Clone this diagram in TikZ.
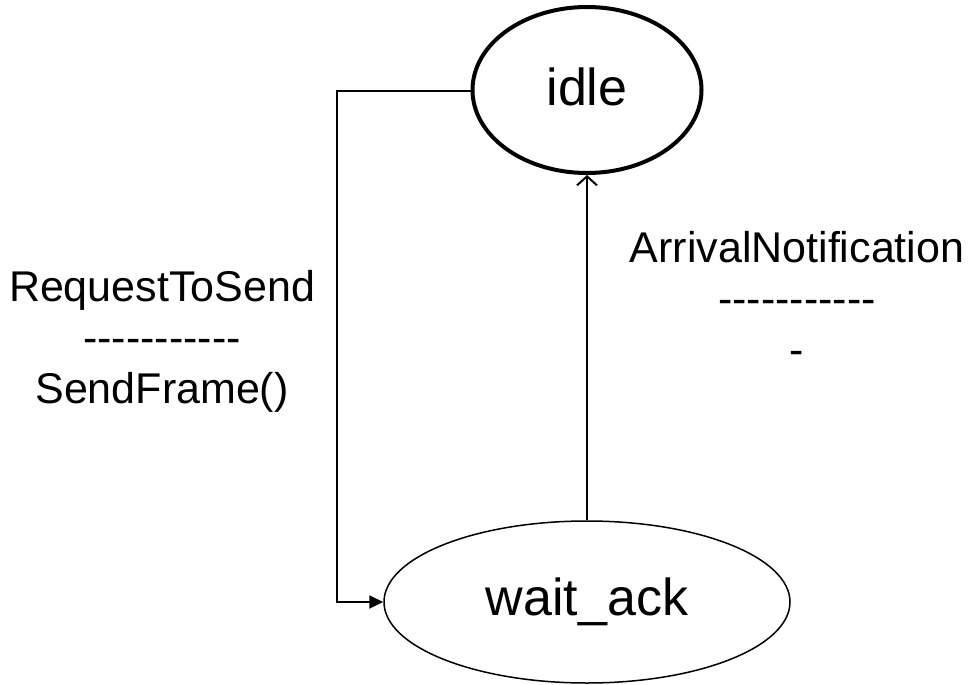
\documentclass[tikz,border=0pt]{standalone}
\usepackage{fontspec}
\setmainfont{Liberation Sans}[Ligatures=TeXOff]
\usetikzlibrary{shapes.geometric,arrows.meta}
\begin{document}
\begin{tikzpicture}[x=1pt,y=-1pt,
  state/.style={ellipse,draw,inner sep=0pt,font=\fontsize{52}{60}\selectfont},
  lbl/.style={align=center,inner sep=0pt,font=\fontsize{43}{51}\selectfont},
  conn/.style={line width=2pt}]
\useasboundingbox (0,0) rectangle (969,685);
\node[state,line width=4pt,minimum width=229pt,minimum height=166pt] (idle) at (587,90) {\raisebox{7pt}{idle}};
\node[state,line width=1.5pt,minimum width=406pt,minimum height=162pt] (wait) at (587,602) {wait\_ack};
\coordinate (c1) at (337,91);
\coordinate (c2) at (337,602);
\draw[conn,-{Triangle[length=14pt,width=13pt]}] (idle.west |- c1) -- (c1) -- (c2) -- (wait.west);
\draw[conn,-{Straight Barb[length=9pt,width=20pt]}] (wait.north) -- (idle.south);
\node[lbl] (req) at (162,341) {RequestToSend\\-----------\\SendFrame()};
\node[lbl] (arr) at (797,298) {ArrivalNotification\\-----------\\-};
\end{tikzpicture}
\end{document}
